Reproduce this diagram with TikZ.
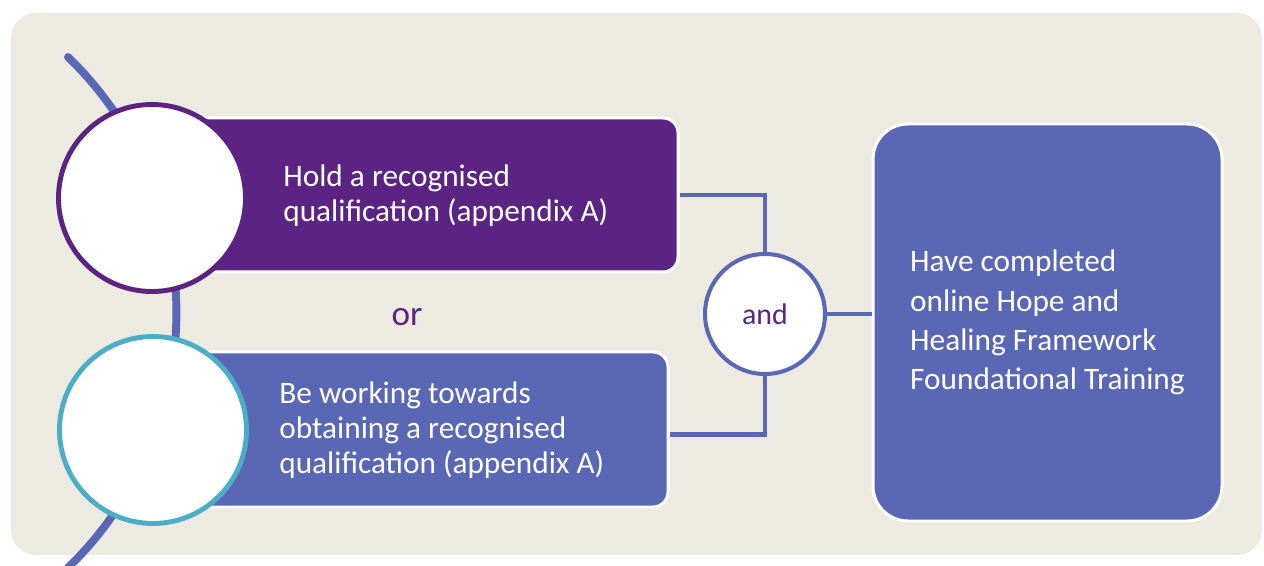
\documentclass[tikz,border=0pt]{standalone}
\usepackage{fontspec}
\setmainfont{Carlito}
\usetikzlibrary{shapes,arrows,positioning}

\definecolor{qualpurple}{HTML}{5C2482}
\definecolor{pathblue}{HTML}{5A67B5}
\definecolor{ringteal}{HTML}{4BAEC6}
\definecolor{panelbg}{HTML}{EDEBE1}

\begin{document}
\begin{tikzpicture}[
    optbox/.style={rectangle, rounded corners=0.3cm, draw=white, line width=1.7pt, minimum width=10.56cm, minimum height=3.08cm},
    goalbox/.style={rectangle, rounded corners=0.7cm, draw=white, line width=1.7pt, fill=pathblue, minimum width=6.98cm, minimum height=7.94cm, align=left, text=white, font=\fontsize{17.8}{22.3}\selectfont},
    ring/.style={circle, fill=white, line width=2.8pt, minimum size=3.74cm},
    optlabel/.style={anchor=west, align=left, text=white, inner sep=0pt, font=\fontsize{17.8}{19.8}\selectfont},
    gate/.style={circle, draw=pathblue, line width=2.3pt, fill=white, minimum size=2.4cm, text=qualpurple, font=\fontsize{17}{20}\selectfont},
    link/.style={draw=pathblue, line width=2.3pt}
]
\useasboundingbox (0,0) rectangle (25.28,11.32);

% Panel behind everything
\fill[panelbg, rounded corners=0.5cm] (0.22,0.22) rectangle (25.24,11.06);

% Sweeping arc on the left
\coordinate (arctop) at (1.36,10.18);
\draw[pathblue, line width=4.5pt, line cap=round] (arctop) arc[start angle=46, end angle=-50, radius=7.1];

% Two options
\node[optbox, fill=qualpurple] (qual) at (8.28,7.42) {};
\node[optbox, fill=pathblue, minimum width=10.36cm, minimum height=3.1cm] (work) at (8.18,2.73) {};
\node[optlabel] (qualtext) at (5.66,7.40) {Hold a recognised\\qualification (appendix A)};
\node[optlabel] (worktext) at (5.58,2.72) {Be working towards\\obtaining a recognised\\qualification (appendix A)};

\node[ring, draw=qualpurple] (qualring) at (3.04,7.36) {};
\node[ring, draw=ringteal] (workring) at (3.06,2.72) {};

\node[text=qualpurple, font=\fontsize{20}{24}\selectfont] (or) at (8.14,4.98) {or};

% Joining gate and the goal
\node[gate] (and) at (15.3,5.04) {and};
\node[goalbox] (done) at (20.95,4.87) {Have completed\\online Hope and\\Healing Framework\\Foundational Training};

% Connections
\draw[link] (qual.east) -| (and.north);
\draw[link] ([yshift=-0.1cm]work.east) -| (and.south);
\draw[link] (and.east) -- (and.east -| done.west);

\end{tikzpicture}
\end{document}
